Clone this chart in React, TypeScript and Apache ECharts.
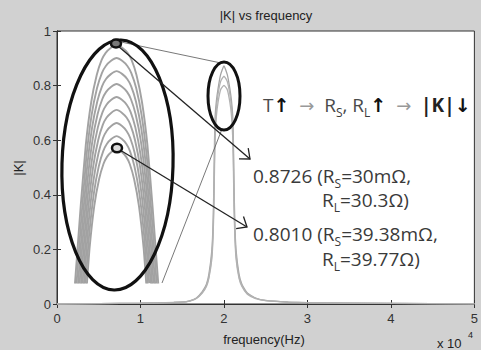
import React, { useEffect, useRef } from 'react';
import * as echarts from 'echarts';

// ---- main resonance curves (frequency in Hz, |K|) ----
const freqHz = [0, 10000, 14000, 15500, 16000, 16700, 17400, 17900, 18200, 18550, 18700, 18800, 18870, 18950, 19100, 19300, 19600, 20000, 20400, 20700, 20900, 21050, 21130, 21200, 21300, 21450, 21800, 22150, 22800, 23800, 25000, 27700, 30000, 40000, 50000];
const kHigh = [0, 0.003, 0.006, 0.009, 0.012, 0.022, 0.045, 0.072, 0.11, 0.198, 0.30, 0.45, 0.60, 0.69, 0.745, 0.79, 0.84, 0.8726, 0.84, 0.79, 0.745, 0.69, 0.60, 0.45, 0.30, 0.198, 0.11, 0.072, 0.040, 0.022, 0.013, 0.007, 0.005, 0.002, 0.001];
const kMid = [0, 0.003, 0.006, 0.009, 0.012, 0.021, 0.042, 0.068, 0.10, 0.18, 0.27, 0.40, 0.55, 0.65, 0.72, 0.77, 0.815, 0.835, 0.815, 0.77, 0.72, 0.65, 0.55, 0.40, 0.27, 0.18, 0.10, 0.068, 0.038, 0.021, 0.012, 0.007, 0.005, 0.002, 0.001];
const kLow = [0, 0.003, 0.006, 0.008, 0.011, 0.020, 0.040, 0.064, 0.095, 0.165, 0.25, 0.36, 0.50, 0.61, 0.69, 0.74, 0.785, 0.801, 0.785, 0.74, 0.69, 0.61, 0.50, 0.36, 0.25, 0.165, 0.095, 0.064, 0.036, 0.020, 0.012, 0.007, 0.005, 0.002, 0.001];

// ---- magnified inset (nested peak tops) ----
const insetCenterHz = 7140;
const insetBaseK = 0.075;
const insetPeakK = [0.949, 0.901, 0.853, 0.806, 0.758, 0.711, 0.663, 0.615, 0.568];
const insetWidthScale = [1.0, 0.985, 0.97, 0.955, 0.94, 0.925, 0.91, 0.895, 0.88];
const insetDepth = [0, 0.011, 0.029, 0.055, 0.11, 0.209, 0.366, 0.586, 0.879];
const insetHalfWidthHz = [0, 710, 1310, 1790, 2380, 3040, 3690, 4290, 5000];

// ---- axis ticks ----
const xTicksHz = [0, 10000, 20000, 30000, 40000, 50000];
const yTicks = [0, 0.2, 0.4, 0.6, 0.8, 1];

function buildArc(i: number): number[][] {
  const peak = insetPeakK[i];
  const maxDepth = peak - insetBaseK;
  const half: number[][] = [];
  for (let j = 0; j < insetDepth.length; j++) {
    if (insetDepth[j] < maxDepth) {
      half.push([insetHalfWidthHz[j] * insetWidthScale[i], insetDepth[j]]);
    } else {
      const d0 = insetDepth[j - 1], d1 = insetDepth[j];
      const w0 = insetHalfWidthHz[j - 1], w1 = insetHalfWidthHz[j];
      const w = w0 + ((maxDepth - d0) / (d1 - d0)) * (w1 - w0);
      half.push([w * insetWidthScale[i], maxDepth]);
      break;
    }
  }
  const left = half.slice().reverse().map(([w, d]) => [insetCenterHz - w, peak - d]);
  const right = half.slice(1).map(([w, d]) => [insetCenterHz + w, peak - d]);
  return left.concat(right);
}

function arrowHead(x1: number, y1: number, x2: number, y2: number, len: number, ang: number) {
  const a = Math.atan2(y2 - y1, x2 - x1);
  const p1 = [x2 - len * Math.cos(a - ang), y2 - len * Math.sin(a - ang)];
  const p2 = [x2 - len * Math.cos(a + ang), y2 - len * Math.sin(a + ang)];
  return [p1, [x2, y2], p2];
}

const GRID = { left: 57, top: 31, width: 420, height: 273 };
const axisFont = 'Liberation Sans, Arial, sans-serif';
const annFont = 'Open Sans, Noto Sans, sans-serif';
const ANN = 19;

export default function App() {
  const ref = useRef<HTMLDivElement>(null);
  useEffect(() => {
    if (!ref.current) return;
    const chart = echarts.init(ref.current, undefined, { renderer: 'svg' });

    const mainSeries = [kHigh, kMid, kLow].map((ks, idx) => ({
      type: 'line',
      data: freqHz.map((f, i) => [f, ks[i]]),
      showSymbol: false,
      smooth: 0.15,
      lineStyle: { color: idx === 0 ? '#a4a4a4' : '#b2b2b2', width: 1.3 },
      z: 2,
    }));

    const arcSeries = insetPeakK.map((_, i) => ({
      type: 'line',
      data: buildArc(i),
      showSymbol: false,
      smooth: 0.15,
      lineStyle: { color: '#a2a2a2', width: 1.9 },
      z: 3,
    }));

    const arrow1 = [118, 46, 250, 159];
    const arrow2 = [120, 150, 247, 227];

    const subRich = {
      s: { fontSize: 12, lineHeight: 13, verticalAlign: 'bottom', fontFamily: annFont, fill: '#3a3a3a' },
    } as any;

    const option: any = {
      animation: false,
      backgroundColor: '#d1d1d1',
      grid: { ...GRID, show: true, backgroundColor: '#ffffff', borderColor: '#333', borderWidth: 1, containLabel: false },
      xAxis: [
        {
          type: 'value', min: 0, max: 50000, interval: 10000,
          axisLine: { show: true, lineStyle: { color: '#333', width: 1 } },
          axisTick: { show: true, inside: true, length: 4, lineStyle: { color: '#333' } },
          splitLine: { show: false },
          axisLabel: { color: '#333', fontSize: 13, fontFamily: axisFont, margin: 8, formatter: (v: number) => (xTicksHz.includes(v) ? String(v / 10000) : '') },
        },
        {
          type: 'value', position: 'top', min: 0, max: 50000, interval: 10000,
          axisLine: { show: true, lineStyle: { color: '#333', width: 1 } },
          axisTick: { show: true, inside: true, length: 4, lineStyle: { color: '#333' } },
          axisLabel: { show: false }, splitLine: { show: false },
        },
      ],
      yAxis: [
        {
          type: 'value', min: 0, max: 1, interval: 0.2,
          axisLine: { show: true, lineStyle: { color: '#333', width: 1 } },
          axisTick: { show: true, inside: true, length: 4, lineStyle: { color: '#333' } },
          splitLine: { show: false },
          axisLabel: { color: '#333', fontSize: 13, fontFamily: axisFont, margin: 6, formatter: (v: number) => { const t = yTicks.find((y) => Math.abs(y - v) < 1e-6); return t === undefined ? '' : String(t); } },
        },
        {
          type: 'value', position: 'right', min: 0, max: 1, interval: 0.2,
          axisLine: { show: true, lineStyle: { color: '#333', width: 1 } },
          axisTick: { show: true, inside: true, length: 4, lineStyle: { color: '#333' } },
          axisLabel: { show: false }, splitLine: { show: false },
        },
      ],
      series: [...mainSeries, ...arcSeries],
      graphic: [
        // title and axis names
        { type: 'text', x: 266, y: 15, style: { text: '|K| vs frequency', font: `13px ${axisFont}`, fill: '#222', align: 'center', verticalAlign: 'middle' } },
        { type: 'text', x: 264, y: 339, style: { text: 'frequency(Hz)', font: `13px ${axisFont}`, fill: '#222', align: 'center', verticalAlign: 'middle' } },
        { type: 'text', x: 18, y: 168, rotation: Math.PI / 2, style: { text: '|K|', font: `13px ${axisFont}`, fill: '#222', align: 'center', verticalAlign: 'middle' } },
        { type: 'text', x: 437, y: 343, style: { text: 'x 10', font: `13px ${axisFont}`, fill: '#222', align: 'left', verticalAlign: 'middle' } },
        { type: 'text', x: 468, y: 335, style: { text: '4', font: `9px ${axisFont}`, fill: '#222', align: 'left', verticalAlign: 'middle' } },

        // zoom connector lines
        { type: 'line', shape: { x1: 121, y1: 42, x2: 221, y2: 63 }, style: { stroke: '#555', lineWidth: 0.8 }, z: 10 },
        { type: 'line', shape: { x1: 162, y1: 283, x2: 222, y2: 129 }, style: { stroke: '#555', lineWidth: 0.8 }, z: 10 },

        // ellipses
        { type: 'ellipse', x: 117.5, y: 165, rotation: -0.028, shape: { cx: 0, cy: 0, rx: 55.5, ry: 125 }, style: { fill: 'none', stroke: '#111', lineWidth: 3.2 }, z: 10 },
        { type: 'ellipse', shape: { cx: 224, cy: 96, rx: 16, ry: 34 }, style: { fill: 'none', stroke: '#111', lineWidth: 3 }, z: 10 },
        { type: 'ellipse', shape: { cx: 116, cy: 43.5, rx: 5, ry: 4 }, style: { fill: '#777', stroke: '#111', lineWidth: 2.5 }, z: 11 },
        { type: 'ellipse', shape: { cx: 117, cy: 148, rx: 5, ry: 4.3 }, style: { fill: '#ddd', stroke: '#111', lineWidth: 2.5 }, z: 11 },

        // arrows
        { type: 'line', shape: { x1: arrow1[0], y1: arrow1[1], x2: arrow1[2], y2: arrow1[3] }, style: { stroke: '#222', lineWidth: 1.3 }, z: 10 },
        { type: 'polyline', shape: { points: arrowHead(arrow1[0], arrow1[1], arrow1[2], arrow1[3], 11, 0.7) }, style: { fill: 'none', stroke: '#222', lineWidth: 1.3 }, z: 10 },
        { type: 'line', shape: { x1: arrow2[0], y1: arrow2[1], x2: arrow2[2], y2: arrow2[3] }, style: { stroke: '#222', lineWidth: 1.3 }, z: 10 },
        { type: 'polyline', shape: { points: arrowHead(arrow2[0], arrow2[1], arrow2[2], arrow2[3], 11, 0.7) }, style: { fill: 'none', stroke: '#222', lineWidth: 1.3 }, z: 10 },

        // annotations
        {
          type: 'text', x: 263, y: 105, z: 12,
          style: {
            text: 'T{a|↑}  {g|→}  R{s|S}, R{s|L}{a|↑}  {g|→}  {k||K|}{a|↓}',
            fontFamily: annFont, fontSize: ANN, lineHeight: 26, fill: '#4a4a4a', verticalAlign: 'middle',
            rich: {
              ...subRich,
              a: { fontSize: ANN, fontWeight: 'bold', fontFamily: 'DejaVu Sans', fill: '#111', lineHeight: 26 },
              g: { fontSize: 18, fontFamily: 'DejaVu Sans', fill: '#999', lineHeight: 26 },
              k: { fontSize: ANN, fontWeight: 'bold', fontFamily: annFont, fill: '#222', lineHeight: 26 },
            },
          },
        },
        { type: 'text', x: 253, y: 176, z: 12, style: { text: '0.8726 (R{s|S}=30mΩ,', fontFamily: annFont, fontSize: ANN, lineHeight: 26, fill: '#3a3a3a', verticalAlign: 'middle', rich: subRich } },
        { type: 'text', x: 322, y: 200, z: 12, style: { text: 'R{s|L}=30.3Ω)', fontFamily: annFont, fontSize: ANN, lineHeight: 26, fill: '#3a3a3a', verticalAlign: 'middle', rich: subRich } },
        { type: 'text', x: 253, y: 234, z: 12, style: { text: '0.8010 (R{s|S}=39.38mΩ,', fontFamily: annFont, fontSize: ANN, lineHeight: 26, fill: '#3a3a3a', verticalAlign: 'middle', rich: subRich } },
        { type: 'text', x: 322, y: 259, z: 12, style: { text: 'R{s|L}=39.77Ω)', fontFamily: annFont, fontSize: ANN, lineHeight: 26, fill: '#3a3a3a', verticalAlign: 'middle', rich: subRich } },
      ],
    };

    chart.setOption(option);
    return () => chart.dispose();
  }, []);

  return <div ref={ref} style={{ position: 'fixed', left: 0, top: 0, width: 481, height: 350 }} />;
}
